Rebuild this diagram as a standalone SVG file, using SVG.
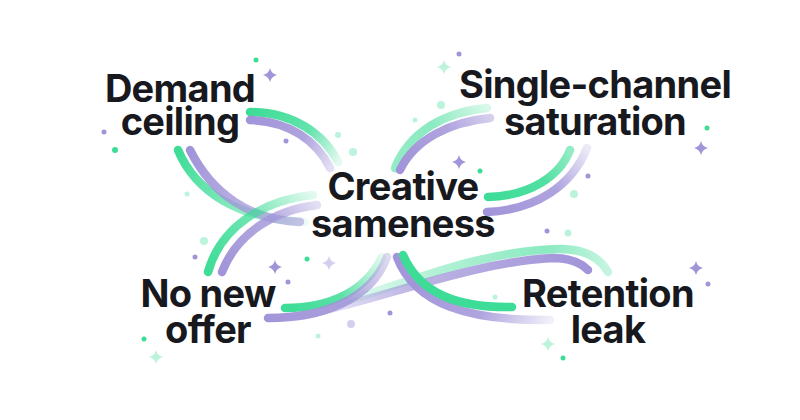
<svg xmlns="http://www.w3.org/2000/svg" xmlns:xlink="http://www.w3.org/1999/xlink" width="800" height="420" viewBox="0 0 800 420">
<style>
.lbl{font-family:Inter,"Noto Sans","Liberation Sans",sans-serif;font-weight:700;font-size:38px;fill:#17191e;text-anchor:middle;letter-spacing:-0.7px}
.s{fill:none;stroke-width:8.5;stroke-linecap:round}
.g{fill:#3ddc97}
.p{fill:#a294d9}
.lg{fill:#3ddc97;opacity:.35}
.lp{fill:#a294d9;opacity:.45}
</style>
<defs>
<path id="star" d="M0,-7 Q1.3,-1.3 7,0 Q1.3,1.3 0,7 Q-1.3,1.3 -7,0 Q-1.3,-1.3 0,-7Z"/>
<linearGradient id="gA" gradientUnits="userSpaceOnUse" x1="250" y1="112" x2="338" y2="162"><stop offset="0" stop-color="#3ddc97"/><stop offset="0.6" stop-color="#3ddc97" stop-opacity=".8"/><stop offset="1" stop-color="#3ddc97" stop-opacity=".15"/></linearGradient>
<linearGradient id="pA" gradientUnits="userSpaceOnUse" x1="250" y1="120" x2="330" y2="168"><stop offset="0" stop-color="#a294d9"/><stop offset="0.6" stop-color="#a294d9" stop-opacity=".85"/><stop offset="1" stop-color="#a294d9" stop-opacity=".3"/></linearGradient>
<linearGradient id="gB" gradientUnits="userSpaceOnUse" x1="178" y1="150" x2="305" y2="222"><stop offset="0" stop-color="#3ddc97"/><stop offset="0.55" stop-color="#3ddc97" stop-opacity=".6"/><stop offset="1" stop-color="#3ddc97" stop-opacity=".1"/></linearGradient>
<linearGradient id="pB" gradientUnits="userSpaceOnUse" x1="190" y1="150" x2="300" y2="222"><stop offset="0" stop-color="#a294d9"/><stop offset="1" stop-color="#a294d9" stop-opacity=".55"/></linearGradient>
<linearGradient id="gC" gradientUnits="userSpaceOnUse" x1="208" y1="272" x2="313" y2="195"><stop offset="0" stop-color="#3ddc97"/><stop offset="0.5" stop-color="#3ddc97" stop-opacity=".75"/><stop offset="1" stop-color="#3ddc97" stop-opacity=".15"/></linearGradient>
<linearGradient id="pC" gradientUnits="userSpaceOnUse" x1="222" y1="272" x2="317" y2="205"><stop offset="0" stop-color="#a294d9"/><stop offset="0.6" stop-color="#a294d9" stop-opacity=".8"/><stop offset="1" stop-color="#a294d9" stop-opacity=".3"/></linearGradient>
<linearGradient id="gD" gradientUnits="userSpaceOnUse" x1="395" y1="168" x2="487" y2="108"><stop offset="0" stop-color="#3ddc97" stop-opacity=".55"/><stop offset="0.5" stop-color="#3ddc97" stop-opacity=".6"/><stop offset="1" stop-color="#3ddc97" stop-opacity=".2"/></linearGradient>
<linearGradient id="pD" gradientUnits="userSpaceOnUse" x1="400" y1="170" x2="490" y2="118"><stop offset="0" stop-color="#a294d9"/><stop offset="0.6" stop-color="#a294d9" stop-opacity=".85"/><stop offset="1" stop-color="#a294d9" stop-opacity=".45"/></linearGradient>
<linearGradient id="gE" gradientUnits="userSpaceOnUse" x1="488" y1="197" x2="570" y2="150"><stop offset="0" stop-color="#3ddc97"/><stop offset="0.6" stop-color="#3ddc97" stop-opacity=".9"/><stop offset="1" stop-color="#3ddc97" stop-opacity=".55"/></linearGradient>
<linearGradient id="pE" gradientUnits="userSpaceOnUse" x1="487" y1="212" x2="587" y2="148"><stop offset="0" stop-color="#a294d9"/><stop offset="0.6" stop-color="#a294d9" stop-opacity=".85"/><stop offset="1" stop-color="#a294d9" stop-opacity=".2"/></linearGradient>
<linearGradient id="gF" gradientUnits="userSpaceOnUse" x1="285" y1="308" x2="382" y2="257"><stop offset="0" stop-color="#3ddc97"/><stop offset="0.5" stop-color="#3ddc97" stop-opacity=".85"/><stop offset="1" stop-color="#3ddc97" stop-opacity=".15"/></linearGradient>
<linearGradient id="pF" gradientUnits="userSpaceOnUse" x1="268" y1="318" x2="387" y2="257"><stop offset="0" stop-color="#a294d9"/><stop offset="0.6" stop-color="#a294d9" stop-opacity=".85"/><stop offset="1" stop-color="#a294d9" stop-opacity=".35"/></linearGradient>
<linearGradient id="gG" gradientUnits="userSpaceOnUse" x1="403" y1="255" x2="512" y2="307"><stop offset="0" stop-color="#3ddc97"/><stop offset="1" stop-color="#3ddc97"/></linearGradient>
<linearGradient id="pG" gradientUnits="userSpaceOnUse" x1="397" y1="257" x2="550" y2="320"><stop offset="0" stop-color="#a294d9"/><stop offset="0.6" stop-color="#a294d9" stop-opacity=".85"/><stop offset="1" stop-color="#a294d9" stop-opacity=".15"/></linearGradient>
<linearGradient id="gH" gradientUnits="userSpaceOnUse" x1="330" y1="306" x2="608" y2="272"><stop offset="0" stop-color="#3ddc97" stop-opacity=".1"/><stop offset="0.4" stop-color="#3ddc97" stop-opacity=".4"/><stop offset="0.8" stop-color="#3ddc97" stop-opacity=".6"/><stop offset="1" stop-color="#3ddc97" stop-opacity=".3"/></linearGradient>
<linearGradient id="pH" gradientUnits="userSpaceOnUse" x1="300" y1="316" x2="588" y2="270"><stop offset="0" stop-color="#a294d9" stop-opacity=".1"/><stop offset="0.4" stop-color="#a294d9" stop-opacity=".7"/><stop offset="1" stop-color="#a294d9"/></linearGradient>
</defs>
<rect width="800" height="420" fill="#ffffff"/>
<g id="decorations">
<circle class="g" cx="256" cy="60" r="2.5"/>
<use xlink:href="#star" class="p" x="270" y="75"/>
<circle class="p" cx="104" cy="132" r="2.5"/>
<circle class="g" cx="115" cy="150" r="3"/>
<circle class="p" cx="286" cy="141" r="2.5"/>
<circle class="lg" cx="338" cy="135" r="3"/>
<circle class="lg" cx="353" cy="152" r="4"/>
<circle class="lg" cx="187" cy="194" r="2.5"/>
<circle class="p" cx="459" cy="54" r="2.5"/>
<use xlink:href="#star" class="lg" x="444" y="67"/>
<circle class="lg" cx="441" cy="105" r="4"/>
<circle class="lg" cx="415" cy="120" r="2.5"/>
<use xlink:href="#star" class="p" x="459" y="162"/>
<circle class="g" cx="480" cy="171" r="2.5"/>
<circle class="g" cx="707" cy="128" r="2.5"/>
<use xlink:href="#star" class="p" x="701" y="148"/>
<circle class="p" cx="588" cy="176" r="2.5"/>
<circle class="lg" cx="574" cy="194" r="4"/>
<circle class="lg" cx="204" cy="241" r="4"/>
<circle class="p" cx="195" cy="257" r="2.5"/>
<use xlink:href="#star" class="p" x="275" y="267"/>
<circle class="g" cx="307" cy="259" r="2.5"/>
<use xlink:href="#star" class="lp" x="329" y="263"/>
<circle class="p" cx="288" cy="282" r="2.5"/>
<circle class="p" cx="390" cy="313" r="2.5"/>
<circle class="lp" cx="351" cy="324" r="4"/>
<circle class="lg" cx="318" cy="336" r="2.5"/>
<circle class="g" cx="144" cy="339" r="2.5"/>
<use xlink:href="#star" class="lg" x="156" y="357"/>
<circle class="p" cx="547" cy="231" r="2.5"/>
<circle class="lg" cx="568" cy="233" r="3.5"/>
<use xlink:href="#star" class="p" x="696" y="268"/>
<circle class="p" cx="708" cy="284" r="2.5"/>
<circle class="lg" cx="495" cy="297" r="2.5"/>
<use xlink:href="#star" class="lg" x="548" y="344"/>
<circle class="g" cx="563" cy="358" r="2.5"/>
</g>
<g id="connectors">
<path class="s" stroke="url(#gH)" d="M330,306 C400,286 480,250 560,249 C585,249 600,258 608,272"/>
<path class="s" stroke="url(#pH)" d="M300,316 C380,300 470,262 553,258 C570,258 581,263 588,270"/>
<path class="s" stroke="url(#gA)" d="M250,112 C293,112 324,134 338,162"/>
<path class="s" stroke="url(#pA)" d="M250,120 C289,121 317,141 330,168"/>
<path class="s" stroke="url(#gB)" d="M178,150 C196,193 240,219 305,222"/>
<path class="s" stroke="url(#pB)" d="M190,150 C212,194 250,220 300,222"/>
<path class="s" stroke="url(#gC)" d="M208,272 C221,226 264,200 313,195"/>
<path class="s" stroke="url(#pC)" d="M222,272 C237,233 275,210 317,205"/>
<path class="s" stroke="url(#gD)" d="M395,168 C410,131 445,112 487,108"/>
<path class="s" stroke="url(#pD)" d="M400,170 C415,139 450,122 490,118"/>
<path class="s" stroke="url(#gE)" d="M488,197 C530,196 560,176 570,150"/>
<path class="s" stroke="url(#pE)" d="M487,212 C535,210 572,186 587,148"/>
<path class="s" stroke="url(#gF)" d="M285,308 C330,308 366,291 382,257"/>
<path class="s" stroke="url(#pF)" d="M268,318 C322,318 371,300 387,257"/>
<path class="s" stroke="url(#pG)" d="M397,257 C415,305 470,321 550,320"/>
<path class="s" stroke="url(#gG)" d="M403,255 C420,294 458,308 512,307"/>
</g>
<g id="node-demand-ceiling"><text class="lbl" x="180" y="102">Demand</text><text class="lbl" x="180" y="135">ceiling</text></g>
<g id="node-single-channel"><text class="lbl" x="595" y="98">Single-channel</text><text class="lbl" x="595" y="135">saturation</text></g>
<g id="node-creative-sameness"><text class="lbl" x="403" y="200">Creative</text><text class="lbl" x="403" y="237">sameness</text></g>
<g id="node-no-new-offer"><text class="lbl" x="208" y="307">No new</text><text class="lbl" x="208" y="343">offer</text></g>
<g id="node-retention-leak"><text class="lbl" x="608" y="307">Retention</text><text class="lbl" x="608" y="343">leak</text></g>
</svg>
